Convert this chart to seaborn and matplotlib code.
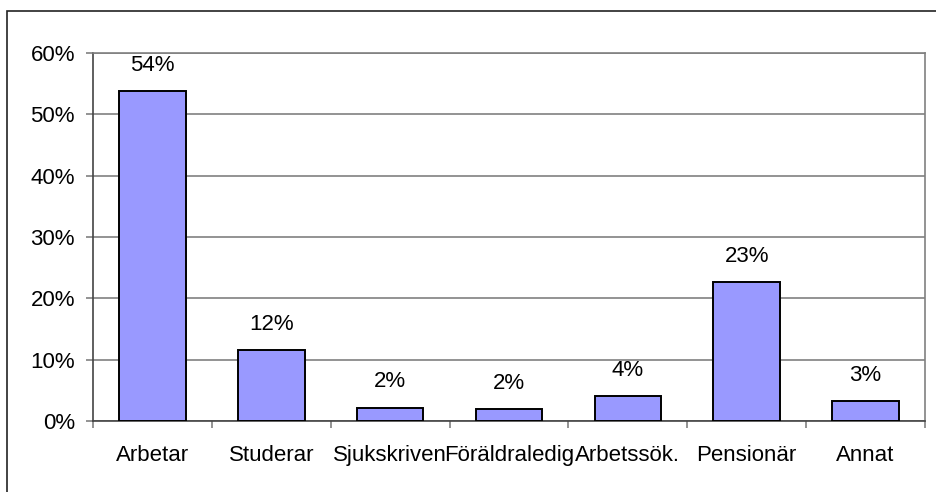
import numpy as np
import pandas as pd
import seaborn as sns
import matplotlib.pyplot as plt
from matplotlib.patches import Rectangle

categories = ['Arbetar', 'Studerar', 'Sjukskriven', 'Föräldraledig',
              'Arbetssök.', 'Pensionär', 'Annat']
shares = [53.8, 11.6, 2.2, 1.9, 4.1, 22.6, 3.2]
yticks = [0, 10, 20, 30, 40, 50, 60]


def main():
    sns.set_style('white')
    plt.rcParams['font.family'] = ['Liberation Sans', 'DejaVu Sans']
    plt.rcParams['text.color'] = 'black'
    plt.rcParams['xtick.labelcolor'] = 'black'
    plt.rcParams['ytick.labelcolor'] = 'black'

    df = pd.DataFrame({'kategori': categories, 'andel': shares})

    fig = plt.figure(figsize=(9.37, 4.92), dpi=100)
    ax = fig.add_axes([93 / 937, 1 - 421 / 492, 832 / 937, 368 / 492])

    # outer frame of the chart area, cut off at right and bottom
    fig.patches.append(Rectangle((7 / 937, -0.1), 1.2, 1 - 11 / 492 + 0.1,
                                 transform=fig.transFigure, fill=False,
                                 edgecolor='#222222', linewidth=1.2))

    sns.barplot(data=df, x='kategori', y='andel', order=categories,
                color='#9999FF', edgecolor='black', linewidth=1.4,
                width=0.56, saturation=1, ax=ax, zorder=3)

    for i, v in enumerate(shares):
        ax.annotate(f'{v:.0f}%', (i, v), xytext=(0, 11),
                    textcoords='offset points', ha='center', va='bottom',
                    fontsize=16)

    ax.set_xlim(-0.5, len(categories) - 0.5)
    ax.set_ylim(0, 60)
    ax.set_yticks(yticks)
    ax.set_yticklabels([f'{t}%' for t in yticks])
    ax.yaxis.grid(True, color='#808080', linewidth=1.2, zorder=0)
    ax.set_axisbelow(True)

    ax.set_xticks(range(len(categories)))
    ax.set_xticklabels(categories)
    ax.set_xticks(np.arange(-0.5, len(categories)), minor=True)
    ax.tick_params(axis='x', which='major', length=0, pad=17, labelsize=16)
    ax.tick_params(axis='x', which='minor', length=5, width=1.2,
                   color='#808080', direction='out', bottom=True)
    ax.tick_params(axis='y', length=5, width=1.2, color='#808080',
                   direction='out', left=True, pad=8, labelsize=16)

    for side in ['left', 'bottom', 'right', 'top']:
        ax.spines[side].set_visible(True)
        ax.spines[side].set_color('#808080')
        ax.spines[side].set_linewidth(1.2)
    ax.spines['left'].set_color('#444444')
    ax.spines['bottom'].set_color('#444444')

    ax.set_xlabel('')
    ax.set_ylabel('')

    plt.savefig('out.png', dpi=100)


if __name__ == '__main__':
    main()
